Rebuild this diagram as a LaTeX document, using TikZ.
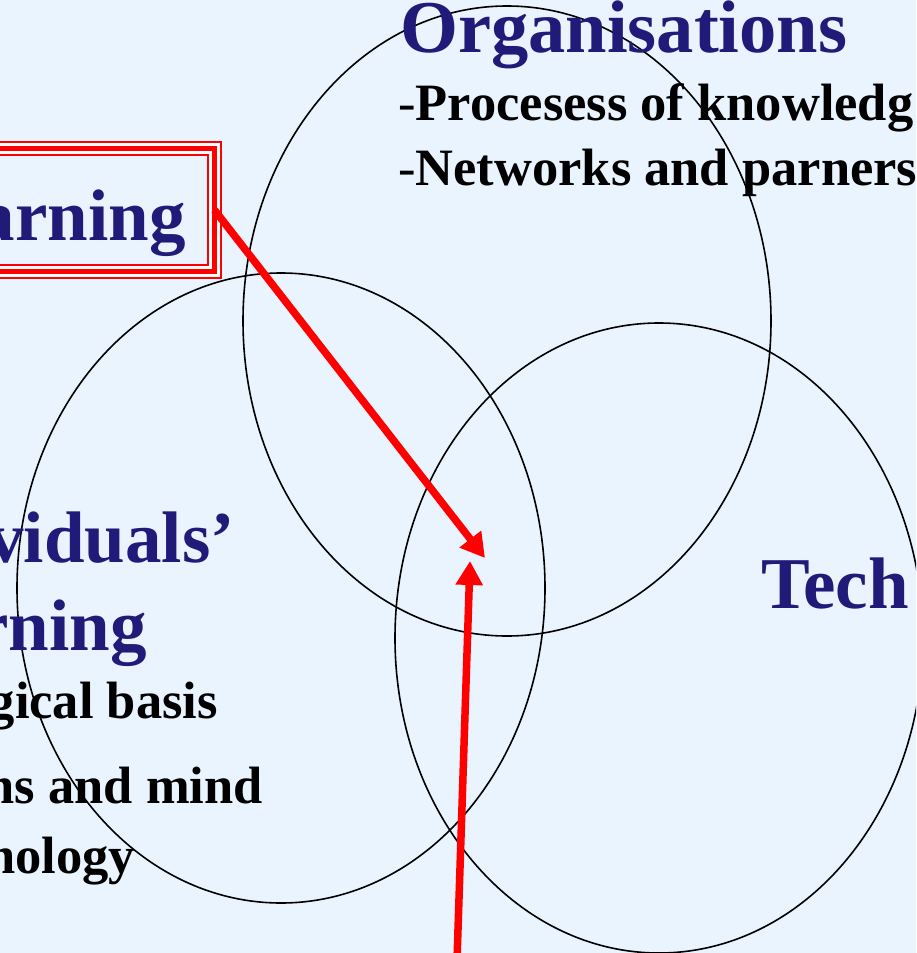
\documentclass[tikz,border=0pt]{standalone}
\usepackage{fontspec}
\setmainfont{Liberation Serif}
\usetikzlibrary{shapes.geometric,positioning,arrows.meta}
\definecolor{slidebg}{RGB}{234,244,254}
\definecolor{titleblue}{RGB}{32,27,120}

\begin{document}
\begin{tikzpicture}[x=1pt, y=-1pt]
    \tikzset{>=latex}
    % Styles for the three sets, the texts and the arrows
    \tikzstyle{set}     = [ellipse, draw = black, line width = 1.6pt, minimum width = 528pt, minimum height = 630pt, inner sep = 0pt]
    \tikzstyle{heading} = [inner sep = 0pt, text = titleblue, font = \fontsize{73}{80}\selectfont\bfseries]
    \tikzstyle{point}   = [inner sep = 0pt, font = \fontsize{52.5}{60}\selectfont\bfseries]
    \tikzstyle{redbox}  = [rectangle, draw = red, line width = 15pt, outer sep = 0pt, minimum width = 420pt, minimum height = 123pt,
                           postaction = {draw = white, line width = 11pt}, postaction = {draw = red, line width = 5pt}]
    \tikzstyle{arrow}   = [red, line width = 7.5pt, -{Triangle[length = 24pt, width = 26pt]}]

    \fill[slidebg] (0,0) rectangle (916,953);
    \useasboundingbox (0,0) rectangle (916,953);
    \clip (0,0) rectangle (916,953);

    % Draw the three sets
    \node[set] (orgs)  at (507,321) {};
    \node[set] (indiv) at (281,588) {};
    \node[set] (techs) at (659,638) {};

    % Organisations
    \node[heading, anchor = base west, font = \fontsize{74.5}{80}\selectfont\bfseries] (orgtitle) at (400,52) {Organisations};
    \node[point, anchor = base west] (proc) at (398,120) {{\mdseries -}Procesess of knowledg};
    \node[point, anchor = base west] (netw) at (398,185) {{\mdseries -}Networks and parners};

    % Individuals
    \node[heading, anchor = base east] (indtitle) at (235,562) {viduals’};
    \node[heading, anchor = base east] (indtitlb) at (147,650) {rning};
    \node[point, anchor = base east] (bio)   at (218,718) {gical basis};
    \node[point, anchor = base east] (brain) at (263,803) {ns and mind};
    \node[point, anchor = base east] (psych) at (135,873) {nology};

    % Technology
    \node[heading, anchor = base west] (techtitle) at (761,608) {Tech};

    % Boxed title
    \node[redbox, anchor = east] (learnbox) at (214.5,210) {};
    \node[heading, anchor = base east] (learntitle) at (186,240) {arning};

    % Arrows into the common part
    \coordinate (hit1) at (485,558);
    \coordinate (hit2) at (470,561);
    \coordinate (foot) at (457,960);
    \draw[arrow] (learnbox.east) -- (hit1);
    \draw[arrow] (foot) -- (hit2);
\end{tikzpicture}
\end{document}
